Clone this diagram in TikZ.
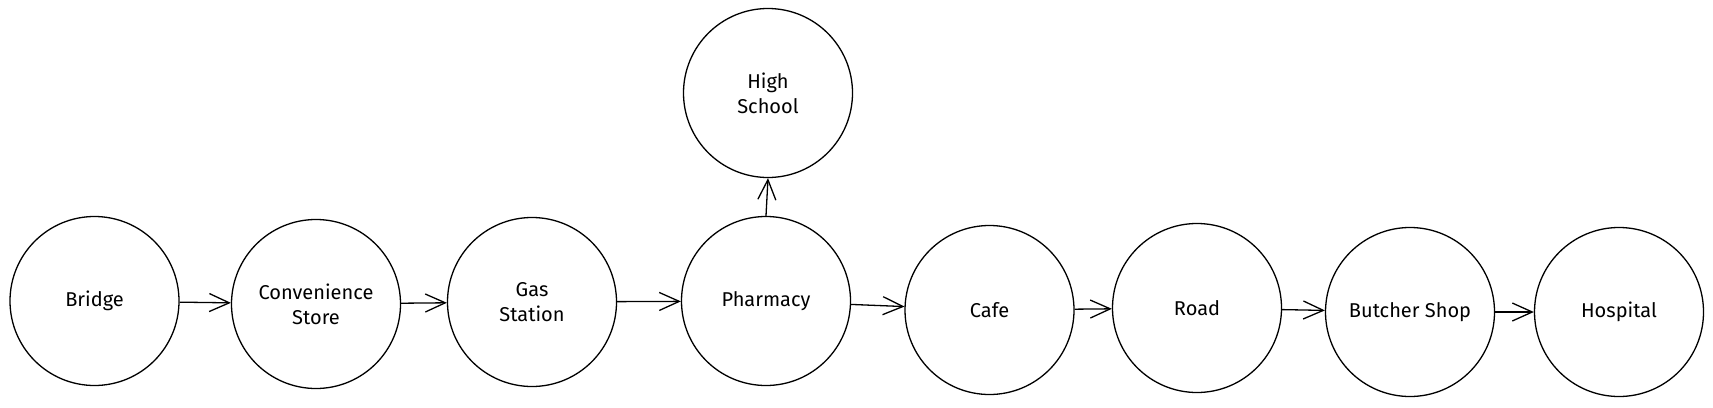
\documentclass[tikz,border=0pt]{standalone}
\usepackage{fontspec}
\setmainfont{Fira Sans}
\usetikzlibrary{arrows.meta}
\tikzset{
  x=1pt, y=-1pt,
  place/.style={circle, draw=black, line width=1.3pt, minimum size=169pt, inner sep=0pt,
    align=center, font=\fontsize{20}{25}\selectfont},
  arr/.style={draw=black, line width=1.3pt, -{Straight Barb[length=20pt,width=18pt,line width=1.3pt]}},
}
\begin{document}
\begin{tikzpicture}
\useasboundingbox (0,0) rectangle (1713,407);
\node[place] (bridge) at (94.5,301) {Bridge};
\node[place] (conv) at (316,304) {Convenience\\Store};
\node[place] (gas) at (532,302) {Gas\\Station};
\node[place] (pharm) at (766,301) {Pharmacy};
\node[place] (hs) at (768,93) {High\\School};
\node[place] (cafe) at (989.5,310) {Cafe};
\node[place] (road) at (1197,308) {Road};
\node[place] (butcher) at (1410,312) {Butcher Shop};
\node[place] (hosp) at (1619,312) {Hospital};
\draw[arr] (bridge) -- (conv);
\draw[arr] (conv) -- (gas);
\draw[arr] (gas) -- (pharm);
\draw[arr] (pharm.north) -- (hs.south);
\draw[arr] (pharm) -- (cafe);
\draw[arr] (cafe) -- (road);
\draw[arr] (road) -- (butcher);
\draw[arr] (butcher) -- (hosp);
\end{tikzpicture}
\end{document}
